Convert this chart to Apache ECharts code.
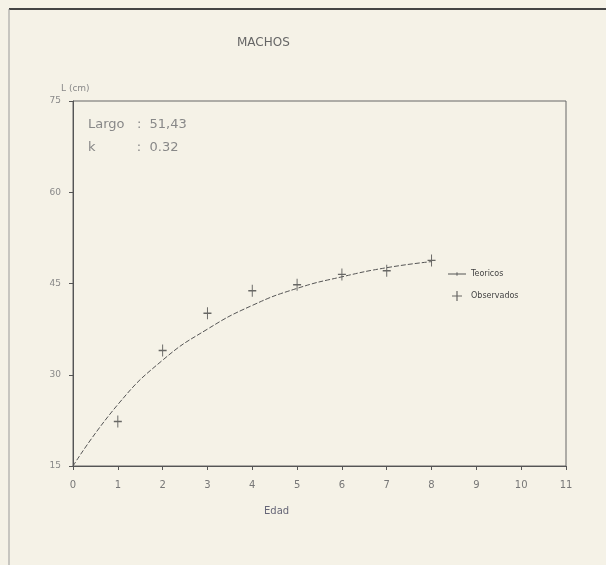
<!DOCTYPE html>
<html>
<head>
<meta charset="utf-8">
<script src="https://cdn.jsdelivr.net/npm/echarts@6/dist/echarts.min.js"></script>
<style>
  html, body { margin: 0; padding: 0; background: #f5f2e7; }
  #chart { width: 606px; height: 565px; }
</style>
</head>
<body>
<div id="chart"></div>
<script>
'use strict';

// edades (anos)
var ages = [0, 1, 2, 3, 4, 5, 6, 7, 8];
// longitud teorica (cm)
var teoricos = [15, 25.1, 32.4, 37.5, 41.4, 44.2, 46.1, 47.6, 48.6];
// longitud observada (cm)
var obsAges = [1, 2, 3, 4, 5, 6, 7, 8];
var observados = [22.3, 34.0, 40.1, 43.8, 44.8, 46.5, 47.1, 48.8];
// ticks
var yTicks = [15, 30, 45, 60, 75];
var xMax = 11;

var plusPath = 'path://M4.4,0 H5.6 V4.4 H10 V5.6 H5.6 V10 H4.4 V5.6 H0 V4.4 H4.4 Z';
var ink = '#555';

var chart = echarts.init(document.getElementById('chart'));

chart.setOption({
  backgroundColor: '#f5f2e7',
  animation: false,
  textStyle: { fontFamily: 'DejaVu Sans', color: '#777' },
  grid: {
    left: 73, right: 40, top: 101, bottom: 99,
    show: true, borderColor: '#666', borderWidth: 1
  },
  xAxis: {
    type: 'value', min: 0, max: xMax, interval: 1,
    axisLine: { lineStyle: { color: '#555' } },
    axisTick: { length: 4, lineStyle: { color: '#555' } },
    axisLabel: { fontSize: 10, color: '#777', margin: 14 },
    splitLine: { show: false }
  },
  yAxis: {
    type: 'value', min: yTicks[0], max: yTicks[yTicks.length - 1], interval: 15,
    name: 'L (cm)', nameLocation: 'end', nameGap: 8,
    nameTextStyle: { fontSize: 9, color: '#888', align: 'left', padding: [0, 0, 0, -12] },
    axisLine: { lineStyle: { color: '#555' } },
    axisTick: { length: 4, lineStyle: { color: '#555' } },
    axisLabel: { fontSize: 9, color: '#888', margin: 12 },
    splitLine: { show: false }
  },
  legend: {
    orient: 'vertical', left: 443, top: 265, itemGap: 13,
    itemWidth: 18, itemHeight: 10,
    textStyle: { fontSize: 8, color: '#444' },
    data: [
      { name: 'Teoricos', icon: 'path://M0,4.5 H20 V5.5 H0 Z M9.5,3 H10.5 V7 H9.5 Z' },
      { name: 'Observados', icon: plusPath }
    ]
  },
  series: [
    {
      name: 'Teoricos',
      type: 'line',
      smooth: true,
      data: ages.map(function (a, i) { return [a, teoricos[i]]; }),
      showSymbol: false,
      symbol: 'none',
      lineStyle: { color: ink, width: 1, type: [5, 2] },
      itemStyle: { color: ink }
    },
    {
      name: 'Observados',
      type: 'scatter',
      data: obsAges.map(function (a, i) { return [a, observados[i]]; }),
      symbol: plusPath,
      symbolSize: [8, 12],
      itemStyle: { color: '#444' }
    }
  ],
  graphic: [
    { type: 'line', shape: { x1: 9, y1: 9, x2: 606, y2: 9 }, style: { stroke: '#444', lineWidth: 2 } },
    { type: 'line', shape: { x1: 9, y1: 9, x2: 9, y2: 565 }, style: { stroke: '#999', lineWidth: 1 } },
    { type: 'text', left: 237, top: 37, style: { text: 'MACHOS', fontSize: 12, fill: '#666', fontFamily: 'DejaVu Sans' } },
    { type: 'text', left: 88, top: 118, style: { text: 'Largo   :  51,43', fontSize: 13, fill: '#888', fontFamily: 'DejaVu Sans' } },
    { type: 'text', left: 88, top: 141, style: { text: 'k          :  0.32', fontSize: 13, fill: '#888', fontFamily: 'DejaVu Sans' } },
    { type: 'text', left: 264, top: 506, style: { text: 'Edad', fontSize: 10, fill: '#667', fontFamily: 'DejaVu Sans' } }
  ]
});
</script>
</body>
</html>
